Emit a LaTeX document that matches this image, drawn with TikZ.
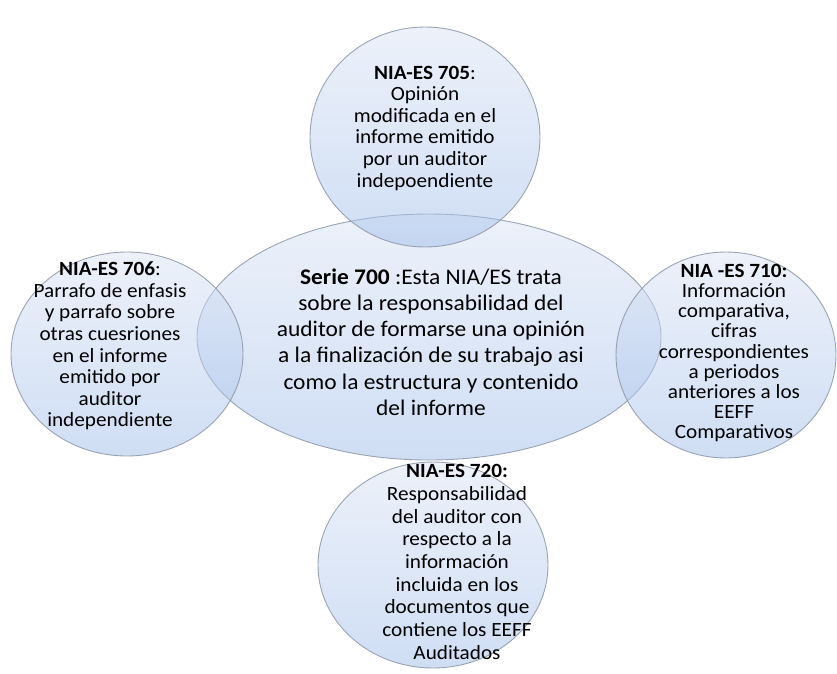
\documentclass[tikz,border=0pt]{standalone}
\usepackage{fontspec}
\setmainfont{Carlito}[FakeStretch=1.05]
\usetikzlibrary{shapes.geometric}
\definecolor{blobtop}{RGB}{218,228,245}
\definecolor{blobbot}{RGB}{160,189,234}
\definecolor{blobline}{RGB}{140,150,165}
\tikzset{
  blob/.style={ellipse, inner sep=0pt, outer sep=0pt, top color=blobtop, bottom color=blobbot,
    fill opacity=0.5, draw=blobline, draw opacity=0.85, line width=0.9pt},
  circtext/.style={align=center, font=\fontsize{20.2}{21.6}\selectfont, inner sep=0pt, text=black},
  maintext/.style={align=center, font=\fontsize{22.3}{26.3}\selectfont, inner sep=0pt, text=black}
}
\begin{document}
\begin{tikzpicture}[x=1pt,y=-1pt]
\useasboundingbox (0,0) rectangle (837,673);
% shapes
\node[blob, minimum width=464pt, minimum height=246pt] (e700) at (429,337) {};
\node[blob, minimum width=230pt, minimum height=220pt] (c705) at (425,137) {};
\node[blob, minimum width=232pt, minimum height=204pt] (c706) at (127,354) {};
\node[blob, minimum width=220pt, minimum height=206pt] (c710) at (726,355) {};
\node[blob, minimum width=230pt, minimum height=206pt] (c720) at (433,565) {};
% texts
\node[maintext] (t700) at (431,342) {\textbf{Serie 700} :Esta NIA/ES trata\\sobre la responsabilidad del\\auditor de formarse una opinión\\a la finalización de su trabajo asi\\como la estructura y contenido\\del informe};
\node[circtext] (t705) at (425,128) {\textbf{NIA-ES 705}:\\Opinión\\modificada en el\\informe emitido\\por un auditor\\indepoendiente};
\node[circtext] (t706) at (110,346) {\textbf{NIA-ES 706}:\\Parrafo de enfasis\\y parrafo sobre\\otras cuesriones\\en el informe\\emitido por\\auditor\\independiente};
\node[circtext, font=\fontsize{20.2}{20.2}\selectfont] (t710) at (734,353) {\textbf{NIA -ES 710:}\\Información\\comparativa,\\cifras\\correspondientes\\a periodos\\anteriores a los\\EEFF\\Comparativos};
\node[circtext, font=\fontsize{20.2}{22.7}\selectfont] (t720) at (457,562) {\textbf{NIA-ES 720:}\\Responsabilidad\\del auditor con\\respecto a la\\información\\incluida en los\\documentos que\\contiene los EEFF\\Auditados};
\end{tikzpicture}
\end{document}
